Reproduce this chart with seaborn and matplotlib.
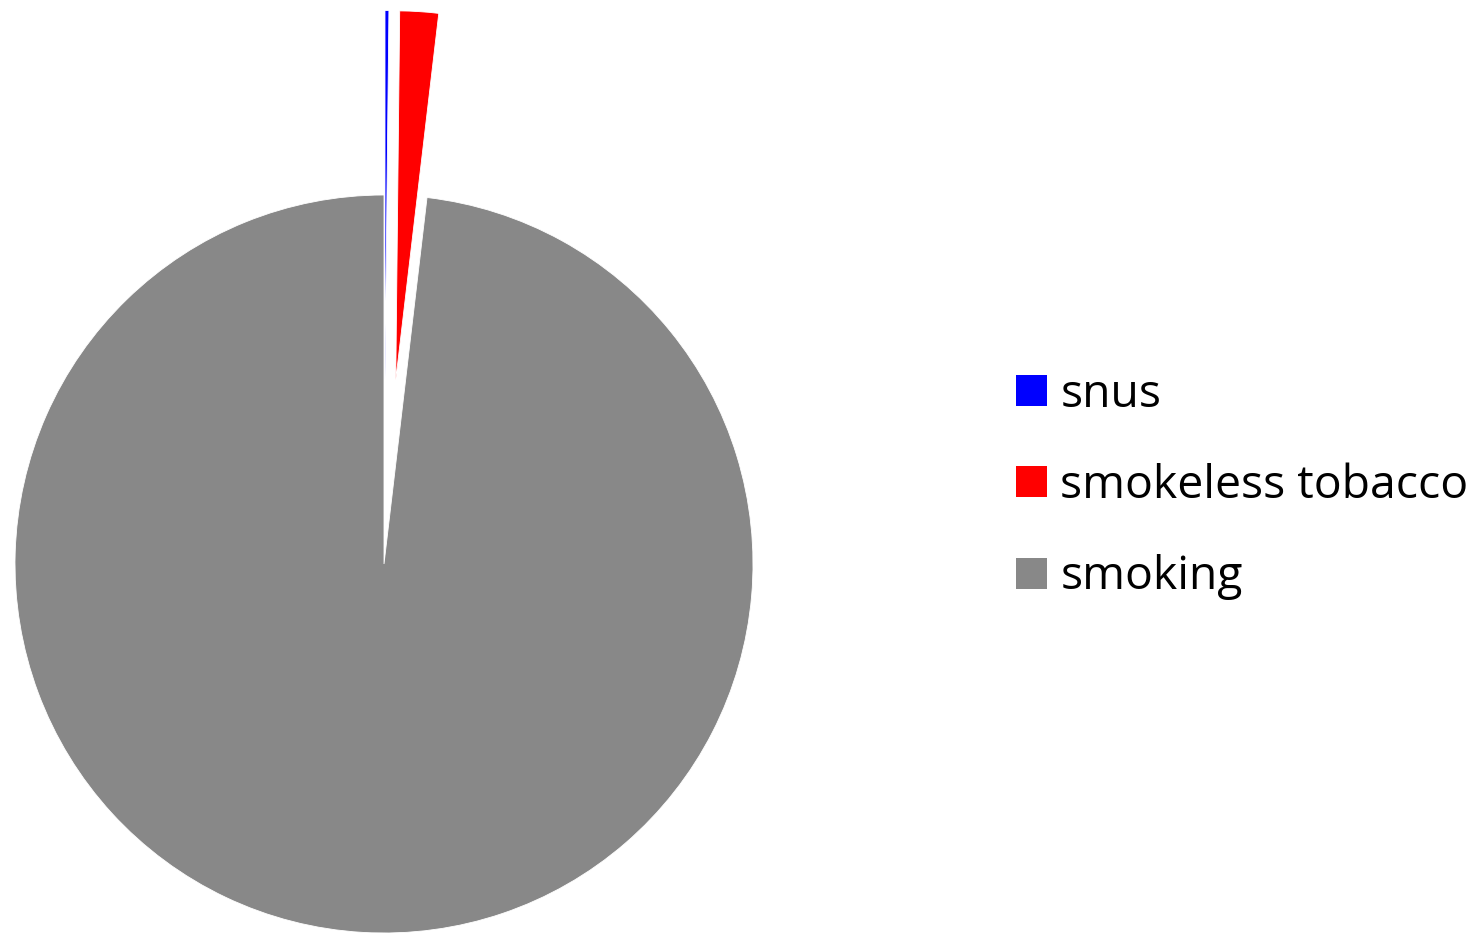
import matplotlib
matplotlib.use("Agg")
import matplotlib.pyplot as plt
import seaborn as sns

# Share of tobacco-attributable burden by product type (%)
categories = ["snus", "smokeless tobacco", "smoking"]
shares = [0.17, 1.69, 98.14]
colors = ["#0000FF", "#FF0000", "#888888"]
explode = [0.5, 0.5, 0.0]

sns.set_theme(style="white")
plt.rcParams["font.family"] = ["Open Sans", "DejaVu Sans"]
plt.rcParams["text.color"] = "black"

W, H, DPI = 1473, 933, 100
fig = plt.figure(figsize=(W / DPI, H / DPI), dpi=DPI)
ax = fig.add_axes([0, 0, 1, 1])

R = 369.0              # pie radius in pixels
cx, cy = 384.0, 564.0  # pie centre (pixels from left / top)

wedges, _ = ax.pie(
    shares,
    colors=colors,
    explode=explode,
    startangle=90,
    counterclock=False,
    radius=1.0,
    wedgeprops=dict(edgecolor="white", linewidth=0.6),
)

ax.set_xlim(-cx / R, (W - cx) / R)
ax.set_ylim(-(H - cy) / R, cy / R)
ax.set_aspect("auto")
ax.axis("off")

leg = fig.legend(
    wedges, categories,
    loc="center left",
    bbox_to_anchor=(1016 / W, 1 - 486 / H),
    frameon=False,
    fontsize=33.3,
    handlelength=0.66,
    handleheight=0.66,
    handletextpad=0.3,
    labelspacing=0.98,
    borderpad=0,
    borderaxespad=0,
    labelcolor="black",
)
for h in leg.legend_handles:
    h.set_edgecolor("none")

fig.savefig("out.png", dpi=DPI, facecolor="white")
